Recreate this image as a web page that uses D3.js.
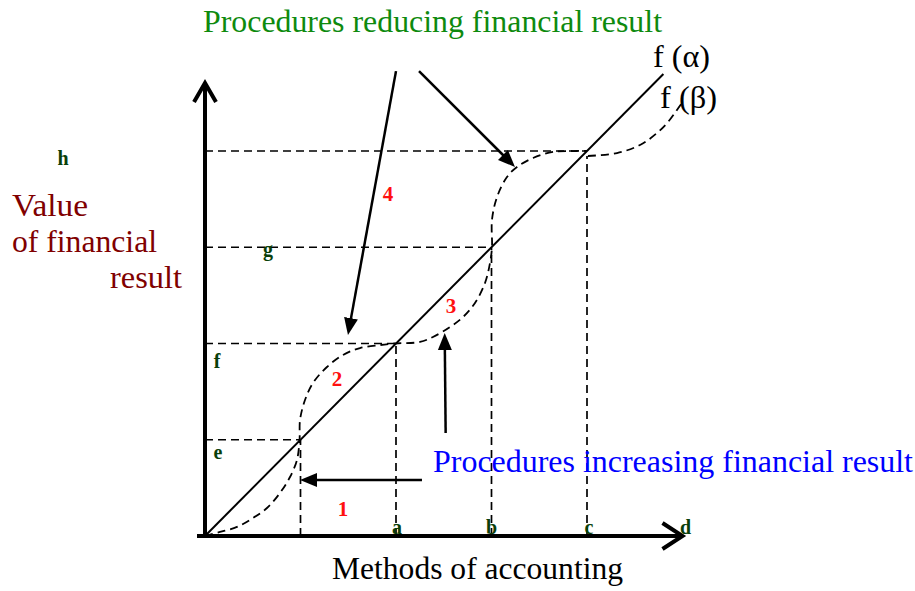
<!DOCTYPE html>
<html><head><meta charset="utf-8">
<script src="https://cdn.jsdelivr.net/npm/d3@7"></script>
<style>body{margin:0;background:#fff}svg{display:block}</style>
</head><body>
<svg id="c" width="915" height="591"></svg>
<script>
// ---- data ----
const methods = ['a', 'b', 'c', 'd'];
const methodValues = [2, 3, 4, 5];
const levelLabels = ['e', 'f', 'g', 'h'];
const levelValues = [1, 2, 3, 4];
const alphaLine = [[0, 0], [4.8, 4.8]];
const betaMain = [
  [0, 0], [0.157, 0.042], [0.335, 0.094], [0.503, 0.187], [0.649, 0.291],
  [0.785, 0.447], [0.890, 0.613], [0.963, 0.790], [0.99, 1.0], [0.995, 1.205],
  [1.047, 1.413], [1.131, 1.590], [1.277, 1.756], [1.445, 1.881], [1.623, 1.953],
  [1.832, 1.984], [1.99, 2.0], [2.251, 2.016], [2.387, 2.068], [2.565, 2.171],
  [2.702, 2.275], [2.827, 2.421], [2.932, 2.629], [2.984, 2.836], [3.005, 3.0],
  [3.005, 3.283], [3.058, 3.522], [3.162, 3.730], [3.267, 3.834], [3.435, 3.927],
  [3.644, 3.990], [3.895, 4.0], [4.0, 4.0]
];
const betaTail = [
  [4.01, 3.948], [4.314, 3.979], [4.555, 4.062], [4.733, 4.187],
  [4.848, 4.301], [4.942, 4.426], [5.016, 4.530]
];
const regionLabels = ['1', '2', '3', '4'];
const reducingArrows = [
  [[2.0, 4.83], [1.497, 2.089]],
  [[2.241, 4.83], [3.246, 3.834]]
];
const increasingArrows = [
  [[2.272, 0.582], [0.995, 0.582]],
  [[2.52, 1.07], [2.51, 2.109]]
];

// ---- layout ----
const svg = d3.select('#c');
const x = d3.scaleLinear().domain([0, 5]).range([205, 682.5]);
const y = d3.scaleLinear().domain([0, 5]).range([536, 54.75]);
const serif = '"Liberation Serif", "Times New Roman", serif';

const defs = svg.append('defs');
defs.append('marker').attr('id', 'ah').attr('viewBox', '-17 -8 18 16')
  .attr('refX', 0).attr('refY', 0).attr('markerWidth', 18).attr('markerHeight', 16)
  .attr('markerUnits', 'userSpaceOnUse').attr('orient', 'auto')
  .append('path').attr('d', 'M0,0 L-17,-7 L-17,7 Z').attr('fill', '#000');

const dash = '8,5';
// guide lines
levelValues.forEach(v => {
  svg.append('line').attr('x1', x(0)).attr('x2', x(v)).attr('y1', y(v)).attr('y2', y(v))
    .attr('stroke', '#000').attr('stroke-width', 1.7).attr('stroke-dasharray', dash);
  svg.append('line').attr('x1', x(v)).attr('x2', x(v)).attr('y1', y(0)).attr('y2', y(v) + (v === 4 ? 5 : 0))
    .attr('stroke', '#000').attr('stroke-width', 1.7).attr('stroke-dasharray', dash);
});

const line = d3.line().x(d => x(d[0])).y(d => y(d[1]));
const curve = d3.line().x(d => x(d[0])).y(d => y(d[1])).curve(d3.curveCatmullRom.alpha(0.5));

svg.append('path').attr('d', line(alphaLine)).attr('fill', 'none')
  .attr('stroke', '#000').attr('stroke-width', 2);
[betaMain, betaTail].forEach(s => {
  svg.append('path').attr('d', curve(s)).attr('fill', 'none')
    .attr('stroke', '#000').attr('stroke-width', 1.8).attr('stroke-dasharray', dash);
});

// axes
svg.append('line').attr('x1', 197).attr('x2', x(5) - 1).attr('y1', y(0)).attr('y2', y(0))
  .attr('stroke', '#000').attr('stroke-width', 4);
svg.append('path').attr('d', `M${x(5) - 20},${y(0) - 13} L${x(5)},${y(0)} L${x(5) - 20},${y(0) + 13}`)
  .attr('fill', 'none').attr('stroke', '#000').attr('stroke-width', 4).attr('stroke-linejoin', 'miter');
svg.append('line').attr('x1', x(0)).attr('x2', x(0)).attr('y1', y(0) + 2).attr('y2', 84)
  .attr('stroke', '#000').attr('stroke-width', 4);
svg.append('path').attr('d', `M${x(0) - 11},102 L${x(0)},83 L${x(0) + 11},102`)
  .attr('fill', 'none').attr('stroke', '#000').attr('stroke-width', 4);

// arrows
[...reducingArrows, ...increasingArrows].forEach(a => {
  const [p, q] = a;
  const dx = x(q[0]) - x(p[0]), dy = y(q[1]) - y(p[1]);
  const L = Math.hypot(dx, dy);
  svg.append('line').attr('x1', x(p[0])).attr('y1', y(p[1]))
    .attr('x2', x(q[0]) - dx / L * 12).attr('y2', y(q[1]) - dy / L * 12)
    .attr('stroke', '#000').attr('stroke-width', 2.5);
  svg.append('path').attr('d', `M${x(q[0]) - dx / L * 14},${y(q[1]) - dy / L * 14} L${x(q[0])},${y(q[1])}`)
    .attr('stroke', 'none').attr('marker-end', 'url(#ah)');
});

// texts
function txt(s, px, py, opts) {
  const t = svg.append('text').attr('x', px).attr('y', py).text(s)
    .attr('font-family', serif).attr('font-size', opts.size || 31.5)
    .attr('fill', opts.fill || '#000');
  if (opts.bold) t.attr('font-weight', 'bold');
  if (opts.anchor) t.attr('text-anchor', opts.anchor);
  if (opts.len) t.attr('textLength', opts.len).attr('lengthAdjust', 'spacingAndGlyphs');
  return t;
}
txt('Procedures reducing financial result', 203, 32, {fill: '#0e8a0e', len: 459});
txt('Procedures increasing financial result', 433, 472, {fill: '#0000ff', len: 480});
txt('Methods of accounting', 332, 579, {len: 291});
txt('Value', 12, 216, {fill: '#800000', len: 76});
txt('of financial', 12, 252, {fill: '#800000', len: 145});
txt('result', 110, 288, {fill: '#800000', len: 72});
txt('f (\u03b1)', 653, 67, {len: 57});
txt('f (\u03b2)', 660, 108, {len: 57});

const dg = '#0a3f0a';
const methodDx = [1, 0, 2, 3];
methods.forEach((m, i) => {
  txt(m, x(methodValues[i]) + methodDx[i], 534, {fill: dg, bold: true, size: 20, anchor: 'middle'});
});
const levelPos = [[218, 459], [217, 368], [268, 256], [63, 165]];
levelLabels.forEach((l, i) => {
  txt(l, levelPos[i][0], levelPos[i][1], {fill: dg, bold: true, size: 20, anchor: 'middle'});
});
const regionPos = [[343, 516], [337, 386], [451, 313], [388, 201]];
regionLabels.forEach((r, i) => {
  txt(r, regionPos[i][0], regionPos[i][1], {fill: '#ff1010', bold: true, size: 21, anchor: 'middle'});
});
</script>
</body></html>
